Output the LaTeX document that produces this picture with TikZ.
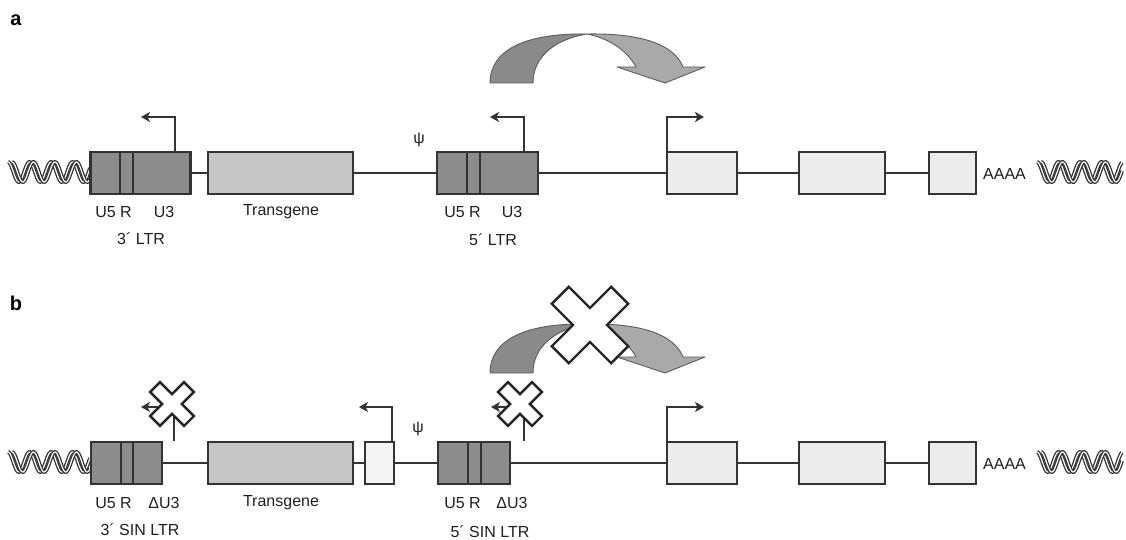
\documentclass[tikz,border=0pt]{standalone}
\usepackage{fontspec}
\setmainfont{Liberation Sans}
\usetikzlibrary{arrows.meta}
\definecolor{edge}{HTML}{333333}
\definecolor{ltrgray}{HTML}{8C8C8C}
\definecolor{tggray}{HTML}{C6C6C6}
\definecolor{exgray}{HTML}{ECECEC}
\definecolor{smgray}{HTML}{F4F4F4}
\definecolor{arrdark}{HTML}{8A8A8A}
\definecolor{arrlight}{HTML}{A9A9A9}
\tikzset{
  genebox/.style={draw=edge, line width=2.2pt, minimum height=42pt, inner sep=0pt, outer sep=0pt},
  ltrbox/.style={genebox, fill=ltrgray},
  tgbox/.style={genebox, fill=tggray},
  exbox/.style={genebox, fill=exgray},
  smbox/.style={genebox, fill=smgray},
  backbone/.style={draw=edge, line width=2pt},
  divider/.style={draw=edge, line width=2.2pt},
  promoter/.style={draw=edge, line width=2.2pt, -{Stealth[length=9pt,width=10pt,inset=2.5pt]}},
  lbl/.style={font=\fontsize{16}{19}\selectfont, text=black!88, inner sep=0pt},
  panel/.style={font=\fontsize{20}{24}\selectfont\bfseries, inner sep=0pt},
  strand/.style={draw=edge, line width=1.3pt, double=white, double distance=1.2pt},
  bendarrow/.style={draw=edge!80, line width=0.9pt, line join=round},
  crossmark/.style={draw=black!85, fill=white, line width=2.4pt, line join=miter}
}
% a 45-degree cross: centre, arm half-width, arm reach
\newcommand\drawcross[4]{%
  \begin{scope}[shift={(#1,#2)}, rotate=45]
    \draw[crossmark] (#3,#3) -- (#4,#3) -- (#4,-#3) -- (#3,-#3) -- (#3,-#4) -- (-#3,-#4)
      -- (-#3,-#3) -- (-#4,-#3) -- (-#4,#3) -- (-#3,#3) -- (-#3,#4) -- (#3,#4) -- cycle;
  \end{scope}}
% curved transcriptional read-through arrow, vertical offset #1
\newcommand\readthrough[1]{%
  \begin{scope}[yshift=-#1pt]
    \draw[bendarrow, fill=arrdark] (490,83) .. controls (490,50) and (525,33) .. (587,34)
      .. controls (556,39) and (533,56) .. (533,83) -- cycle;
    \draw[bendarrow, fill=arrlight] (587,34) .. controls (640,33) and (674,44) .. (683,67)
      -- (705,67) -- (665,83) -- (617,67) -- (636,67)
      .. controls (627,50) and (608,38) .. (587,34) -- cycle;
  \end{scope}}
% double-stranded helix from x=#1 over length #2 at height #3
\newcommand\helix[3]{%
  \draw[strand] plot[domain=0:#2, samples=90, smooth] ({#1+\x}, {#3 - 10*cos(16.744*\x)});
  \draw[strand] plot[domain=0:#2-4, samples=90, smooth] ({#1+4+\x}, {#3 - 10*cos(16.744*\x)});}
\begin{document}
\begin{tikzpicture}[x=1pt, y=-1pt]
\useasboundingbox (0,0) rectangle (1126,540);

% ---------------- panel a ----------------
\node[panel] (pa) at (16,20) {a};
\readthrough{0}

\helix{8}{82}{172}
\helix{1037}{85}{172}

\node[ltrbox, minimum width=100pt] (ltr3a) at (140.5,173) {};
\node[tgbox,  minimum width=145pt] (tga)   at (280.5,173) {};
\node[ltrbox, minimum width=101pt] (ltr5a) at (487.5,173) {};
\node[exbox,  minimum width=70pt]  (ex1a)  at (702,173) {};
\node[exbox,  minimum width=86pt]  (ex2a)  at (842,173) {};
\node[exbox,  minimum width=47pt]  (ex3a)  at (952.5,173) {};

\draw[backbone] (ltr3a.east) -- (tga.west);
\draw[backbone] (tga.east) -- (ltr5a.west);
\draw[backbone] (ltr5a.east) -- (ex1a.west);
\draw[backbone] (ex1a.east) -- (ex2a.west);
\draw[backbone] (ex2a.east) -- (ex3a.west);

\draw[divider] (120,152) -- (120,194);
\draw[divider] (133,152) -- (133,194);
\draw[divider] (467,152) -- (467,194);
\draw[divider] (480,152) -- (480,194);

\coordinate (pa1) at (141,117);
\coordinate (pa2) at (490,117);
\coordinate (pa3) at (704,117);
\draw[promoter] (ltr3a.north -| 175,0) |- (pa1);
\draw[promoter] (ltr5a.north -| 524,0) |- (pa2);
\draw[promoter] (ex1a.north west) |- (pa3);

\node[lbl] (u5a1) at (113.5,212) {U5 R};
\node[lbl] (u3a1) at (164,212) {U3};
\node[lbl] (l3a)  at (141,239) {3´ LTR};
\node[lbl] (tgla) at (281,212) {Transgene};
\node[lbl] (psia) at (419,140) {ψ};
\node[lbl] (u5a2) at (462.5,212) {U5 R};
\node[lbl] (u3a2) at (512,212) {U3};
\node[lbl] (l5a)  at (493,240) {5´ LTR};
\node[lbl, anchor=west] (polya) at (983,174) {AAAA};

% ---------------- panel b ----------------
\node[panel] (pb) at (16,303) {b};
\readthrough{290}
\drawcross{590}{325}{12}{42}

\helix{8}{82}{462}
\helix{1037}{85}{462}

\node[ltrbox, minimum width=71pt]  (ltr3b) at (126.5,463) {};
\node[tgbox,  minimum width=145pt] (tgb)   at (280.5,463) {};
\node[smbox,  minimum width=29pt]  (smb)   at (379.5,463) {};
\node[ltrbox, minimum width=72pt]  (ltr5b) at (474,463) {};
\node[exbox,  minimum width=70pt]  (ex1b)  at (702,463) {};
\node[exbox,  minimum width=86pt]  (ex2b)  at (842,463) {};
\node[exbox,  minimum width=47pt]  (ex3b)  at (952.5,463) {};

\draw[backbone] (ltr3b.east) -- (tgb.west);
\draw[backbone] (tgb.east) -- (smb.west);
\draw[backbone] (smb.east) -- (ltr5b.west);
\draw[backbone] (ltr5b.east) -- (ex1b.west);
\draw[backbone] (ex1b.east) -- (ex2b.west);
\draw[backbone] (ex2b.east) -- (ex3b.west);

\draw[divider] (121,442) -- (121,484);
\draw[divider] (133,442) -- (133,484);
\draw[divider] (468,442) -- (468,484);
\draw[divider] (481,442) -- (481,484);

\coordinate (pb0a) at (174,441);
\coordinate (pb1) at (141,407);
\coordinate (pb0b) at (524,441);
\coordinate (pb2) at (491,407);
\coordinate (pb3) at (359,407);
\coordinate (pb4) at (704,407);
\draw[promoter] (pb0a) |- (pb1);
\draw[promoter] (pb0b) |- (pb2);
\draw[promoter] (smb.north -| 392,0) |- (pb3);
\draw[promoter] (ex1b.north west) |- (pb4);
\drawcross{172}{404}{7}{24}
\drawcross{520}{404}{7}{24}

\node[lbl] (u5b1) at (113.5,503) {U5 R};
\node[lbl] (u3b1) at (164,503) {ΔU3};
\node[lbl] (l3b)  at (140,530) {3´ SIN LTR};
\node[lbl] (tglb) at (281,503) {Transgene};
\node[lbl] (psib) at (418,429) {ψ};
\node[lbl] (u5b2) at (462.5,503) {U5 R};
\node[lbl] (u3b2) at (512,503) {ΔU3};
\node[lbl] (l5b)  at (490,532) {5´ SIN LTR};
\node[lbl, anchor=west] (polyb) at (983,464) {AAAA};
\end{tikzpicture}
\end{document}
